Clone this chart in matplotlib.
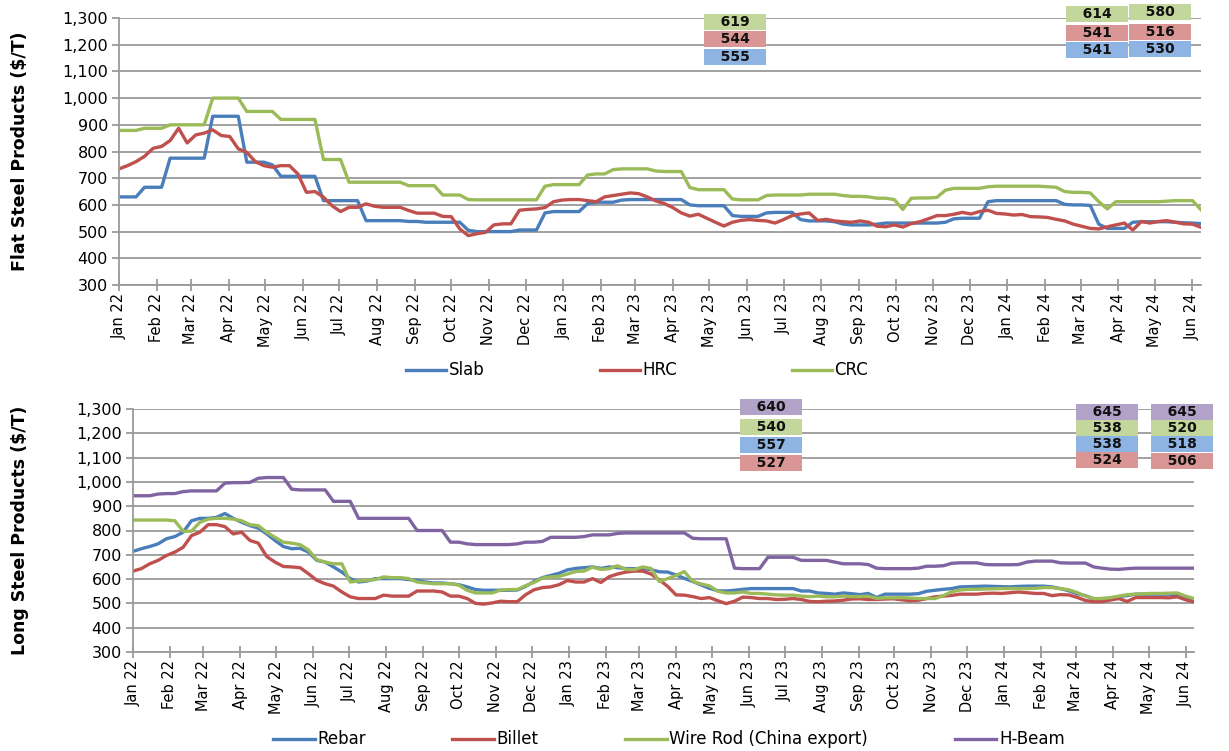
import matplotlib
matplotlib.use("Agg")
import matplotlib.pyplot as plt
import matplotlib.dates as mdates
import pandas as pd

# weekly observations, Jan 2022 - Jun 2024
dates = pd.date_range("2022-01-01", periods=128, freq="7D")

slab = [630, 630, 630, 666, 666, 666, 775, 775, 775, 775, 775, 932, 932, 932, 932,
        760, 760, 760, 750, 707, 707, 707, 707, 707, 616, 616, 616, 616, 616, 541,
        541, 541, 541, 541, 538, 538, 535, 535, 535, 535, 535, 505,
        500, 500, 500, 500, 500, 506, 506, 506, 570, 575, 575, 575, 575, 605, 610,
        610, 610, 618, 620, 620, 620, 620, 620, 620, 620, 600, 597, 597, 597, 597,
        560, 557, 557, 557, 570, 572, 572, 572, 545, 540, 540, 540, 537,
        528, 525, 525, 525, 528, 532, 532, 532, 532, 532, 532, 532, 535, 548, 550,
        550, 550, 612, 616, 616, 616, 616, 616, 616, 616, 616, 602, 600, 600, 598,
        528, 512, 512, 512, 535, 537, 537, 537, 537, 535, 533, 532, 530]
hrc = [735, 747, 762, 782, 812, 819, 841, 887, 832, 862, 869, 881, 860, 856, 810,
       797, 762, 747, 741, 747, 747, 716, 647, 650, 629, 597, 575, 591, 591, 604,
       595, 591, 591, 591, 579, 569, 569, 569, 557, 556, 510, 485,
       492, 497, 525, 529, 529, 580, 583, 585, 590, 612, 618, 620, 620, 616, 612,
       630, 635, 640, 645, 642, 630, 615, 605, 590, 570, 558, 565, 550, 535, 521,
       535, 542, 545, 542, 540, 532, 545, 560, 566, 570, 542, 546, 540,
       537, 535, 540, 535, 520, 518, 525, 517, 530, 537, 548, 560, 560, 565, 572,
       566, 575, 580, 568, 566, 562, 564, 556, 555, 553, 546, 540, 528, 520, 512,
       510, 518, 525, 532, 506, 538, 532, 538, 541, 535, 529, 528, 516]
crc = [879, 879, 879, 887, 887, 887, 900, 900, 900, 900, 900, 1000, 1000, 1000, 1000,
       950, 950, 950, 950, 920, 920, 920, 920, 920, 770, 770, 770, 685, 685, 685,
       685, 685, 685, 685, 672, 672, 672, 672, 637, 637, 637, 620,
       619, 619, 619, 619, 619, 619, 619, 619, 670, 676, 676, 676, 676, 712, 716,
       716, 732, 735, 735, 735, 735, 727, 725, 725, 725, 665, 657, 657, 657, 657,
       622, 619, 619, 619, 635, 637, 637, 637, 637, 640, 640, 640, 640,
       635, 632, 632, 630, 625, 625, 620, 583, 625, 626, 626, 628, 655, 662, 662,
       662, 662, 668, 670, 670, 670, 670, 670, 670, 668, 666, 650, 647, 647, 645,
       612, 585, 612, 612, 612, 612, 612, 612, 614, 616, 616, 616, 582]

rebar = [714, 725, 734, 745, 766, 775, 793, 840, 850, 850, 854, 870, 850, 834, 820,
         810, 786, 759, 734, 725, 727, 711, 677, 670, 650, 629, 602, 588, 592, 602,
         602, 602, 602, 598, 595, 588, 584, 584, 581, 577, 568, 557,
         554, 554, 554, 554, 555, 570, 590, 606, 615, 624, 638, 644, 647, 650, 644,
         650, 647, 643, 643, 643, 639, 630, 629, 617, 603, 590, 576, 562, 552, 551,
         554, 558, 561, 561, 561, 561, 561, 561, 551, 551, 543, 541, 538,
         543, 540, 536, 541, 524, 538, 538, 538, 538, 540, 550, 554, 558, 561, 568,
         569, 570, 571, 570, 569, 568, 570, 571, 571, 571, 568, 561, 552, 540, 532,
         518, 520, 520, 528, 532, 538, 538, 538, 538, 538, 535, 524, 518]
billet = [633, 643, 663, 677, 697, 711, 731, 779, 793, 824, 824, 816, 786, 793, 759,
          748, 693, 670, 652, 650, 647, 622, 595, 581, 571, 547, 527, 520, 520, 520,
          534, 530, 530, 530, 551, 551, 551, 547, 530, 530, 520, 500,
          497, 502, 509, 507, 507, 536, 556, 565, 568, 577, 594, 588, 588, 602, 586,
          610, 621, 629, 633, 633, 621, 597, 570, 535, 534, 528, 520, 524, 511, 499,
          509, 526, 524, 520, 520, 516, 517, 520, 516, 508, 507, 509, 510,
          513, 518, 519, 516, 516, 518, 519, 515, 511, 513, 520, 527, 530, 533, 538,
          538, 538, 541, 542, 541, 544, 547, 544, 541, 541, 532, 536, 535, 525, 512,
          507, 507, 514, 520, 508, 524, 524, 524, 524, 523, 527, 515, 506]
wire_rod = [843, 843, 843, 843, 843, 840, 797, 797, 834, 847, 850, 850, 847, 840, 824,
            820, 793, 772, 752, 748, 742, 720, 680, 670, 663, 663, 588, 592, 595, 598,
            609, 606, 606, 602, 588, 584, 581, 581, 581, 575, 554, 543,
            543, 543, 555, 557, 557, 573, 586, 604, 609, 611, 621, 631, 633, 649, 640,
            643, 655, 640, 639, 650, 644, 590, 602, 615, 631, 590, 580, 572, 550, 543,
            543, 547, 541, 541, 538, 535, 534, 534, 530, 528, 530, 527, 527,
            530, 528, 528, 530, 521, 523, 523, 524, 522, 520, 520, 520, 532, 548, 555,
            558, 558, 559, 560, 561, 561, 561, 561, 562, 565, 565, 561, 556, 545, 530,
            520, 520, 524, 530, 536, 538, 540, 541, 541, 542, 543, 530, 520]
h_beam = [943, 943, 943, 950, 952, 952, 960, 963, 963, 963, 963, 995, 997, 997, 998,
          1015, 1018, 1018, 1018, 970, 967, 967, 967, 967, 920, 920, 920, 850, 850, 850,
          850, 850, 850, 850, 800, 800, 800, 800, 752, 752, 745, 742,
          742, 742, 742, 742, 745, 752, 752, 755, 772, 772, 772, 772, 775, 782, 782,
          782, 788, 790, 790, 790, 790, 790, 790, 790, 790, 768, 766, 766, 766, 766,
          645, 643, 643, 643, 690, 690, 690, 690, 677, 677, 677, 677, 670,
          663, 663, 663, 660, 645, 643, 643, 643, 643, 645, 653, 653, 655, 665, 667,
          667, 667, 660, 659, 659, 659, 660, 670, 674, 674, 674, 667, 666, 666, 666,
          650, 645, 641, 640, 643, 645, 645, 645, 645, 645, 645, 645, 645]

# callout values (snapshots shown as coloured boxes)
flat_callouts = [
    ("Jun 23", [619, 544, 555]),
    ("Mar 24", [614, 541, 541]),
    ("Jun 24", [580, 516, 530]),
]
long_callouts = [
    ("Jun 23", [640, 540, 557, 527]),
    ("Mar 24", [645, 538, 538, 524]),
    ("Jun 24", [645, 520, 518, 506]),
]

BLUE = "#4a7ebb"
RED = "#c0504d"
GREEN = "#9bbb59"
PURPLE = "#8064a2"
BOX = {BLUE: "#8eb4e3", RED: "#d99694", GREEN: "#c3d69b", PURPLE: "#b3a2c7"}

W, H = 1229, 751
fig = plt.figure(figsize=(W / 100, H / 100), dpi=100)


def px_axes(left, top, right, bottom):
    return fig.add_axes([left / W, 1 - bottom / H, (right - left) / W, (bottom - top) / H])


def style_axes(ax, ylabel):
    ax.set_ylim(300, 1300)
    ax.set_yticks(range(300, 1301, 100))
    ax.set_yticklabels([f"{v:,}" for v in range(300, 1301, 100)], fontsize=11.5)
    ax.set_xlim(dates[0], dates[-1])
    ax.xaxis.set_major_locator(mdates.MonthLocator())
    ax.xaxis.set_major_formatter(mdates.DateFormatter("%b %y"))
    plt.setp(ax.get_xticklabels(), rotation=90, fontsize=10.5)
    ax.grid(axis="y", color="#9a9a9a", linewidth=1.3)
    ax.set_axisbelow(True)
    for s in ["top", "right"]:
        ax.spines[s].set_visible(False)
    for s in ["left", "bottom"]:
        ax.spines[s].set_color("#9a9a9a")
        ax.spines[s].set_linewidth(1.3)
    ax.tick_params(axis="x", direction="inout", length=8, color="#9a9a9a", width=1.3, pad=2)
    ax.tick_params(axis="y", direction="out", length=5, color="#9a9a9a", width=1.3, pad=3)
    ax.set_ylabel(ylabel, fontsize=12.5, fontweight="bold")


def callout(x, y, value, color):
    fig.text(x / W, 1 - y / H, value, ha="center", va="center",
             fontsize=10, fontweight="bold", color="#111111",
             bbox=dict(boxstyle="square,pad=0.1", fc=BOX[color], ec="none"))


# ---- flat products ----
ax1 = px_axes(119, 18, 1201, 285)
ax1.plot(dates, slab, color=BLUE, lw=2.4, label="Slab")
ax1.plot(dates, hrc, color=RED, lw=2.4, label="HRC")
ax1.plot(dates, crc, color=GREEN, lw=2.4, label="CRC")
style_axes(ax1, "Flat Steel Products ($/T)")
ax1.yaxis.set_label_coords(-0.083, 0.5)
ax1.legend(loc="center", bbox_to_anchor=(0.479, -0.32), ncol=3, frameon=False,
           fontsize=12, handlelength=2.4, handletextpad=0.15, columnspacing=6.9)

flat_cols = [GREEN, RED, BLUE]
for (cx, ys), (_, vals) in zip([(735, [22, 39, 57]), (1097, [14, 33, 50]), (1160, [12, 32, 49])],
                               flat_callouts):
    for y, v, c in zip(ys, vals, flat_cols):
        callout(cx, y, f" {v} ".center(9), c)

# ---- long products ----
ax2 = px_axes(133, 409, 1194, 652)
ax2.plot(dates, rebar, color=BLUE, lw=2.4, label="Rebar")
ax2.plot(dates, billet, color=RED, lw=2.4, label="Billet")
ax2.plot(dates, wire_rod, color=GREEN, lw=2.4, label="Wire Rod (China export)")
ax2.plot(dates, h_beam, color=PURPLE, lw=2.4, label="H-Beam")
style_axes(ax2, "Long Steel Products ($/T)")
ax2.yaxis.set_label_coords(-0.098, 0.5)
ax2.legend(loc="center", bbox_to_anchor=(0.505, -0.36), ncol=4, frameon=False,
           fontsize=12, handlelength=2.5, handletextpad=0.15, columnspacing=5.2)

long_cols = [PURPLE, GREEN, BLUE, RED]
for (cx, ys), (_, vals) in zip([(771, [407, 427, 445, 463]), (1107, [412, 428, 444, 460]),
                                (1182, [412, 428, 444, 461])], long_callouts):
    for y, v, c in zip(ys, vals, long_cols):
        callout(cx, y, f" {v} ".center(9), c)

fig.savefig("out.png", dpi=100)
